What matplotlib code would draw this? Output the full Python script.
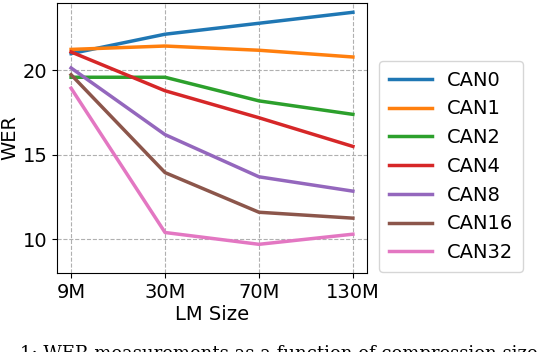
import numpy as np
import matplotlib
matplotlib.use('Agg')
import matplotlib.pyplot as plt

# LM sizes on the x axis
sizes = ['9M', '30M', '70M', '130M']

# WER per compression setting
can0 = [21.0, 22.15, 22.8, 23.45]
can1 = [21.25, 21.45, 21.2, 20.8]
can2 = [19.6, 19.6, 18.2, 17.4]
can4 = [21.1, 18.8, 17.2, 15.5]
can8 = [20.15, 16.2, 13.7, 12.85]
can16 = [19.75, 13.95, 11.6, 11.25]
can32 = [18.95, 10.4, 9.7, 10.3]

series = [can0, can1, can2, can4, can8, can16, can32]
names = ['CAN0', 'CAN1', 'CAN2', 'CAN4', 'CAN8', 'CAN16', 'CAN32']

plt.rcParams['font.family'] = ['DejaVu Sans']
fig = plt.figure(figsize=(5.38, 3.52), dpi=100)
ax = fig.add_axes([57 / 538, 1 - 273 / 352, 310 / 538, 270 / 352])

x = np.arange(len(sizes))
for vals, name in zip(series, names):
    ax.plot(x, vals, linewidth=2.5, label=name)

ax.set_xticks(x)
ax.set_xticklabels(sizes, fontsize=14)
ax.set_yticks([10, 15, 20])
ax.tick_params(axis='y', labelsize=14)
ax.set_ylim(8, 24)
ax.grid(True, linestyle='--', color='#b0b0b0', linewidth=0.8)
ax.set_xlabel('LM Size', fontsize=14, labelpad=2)
ax.set_ylabel('WER', fontsize=14, labelpad=2)

fig.legend(loc='upper left', bbox_to_anchor=(379 / 538, 1 - 61 / 352),
           borderaxespad=0, fontsize=14, handlelength=2.2, borderpad=0.5,
           labelspacing=0.5)

# caption of the page, cut off at the bottom as in the source
fig.text(20 / 538, 1 - 345 / 352, '1: WER measurements as a function of compression size',
         family='DejaVu Serif', fontsize=13, va='top', ha='left')

fig.savefig('out.png', dpi=100)
